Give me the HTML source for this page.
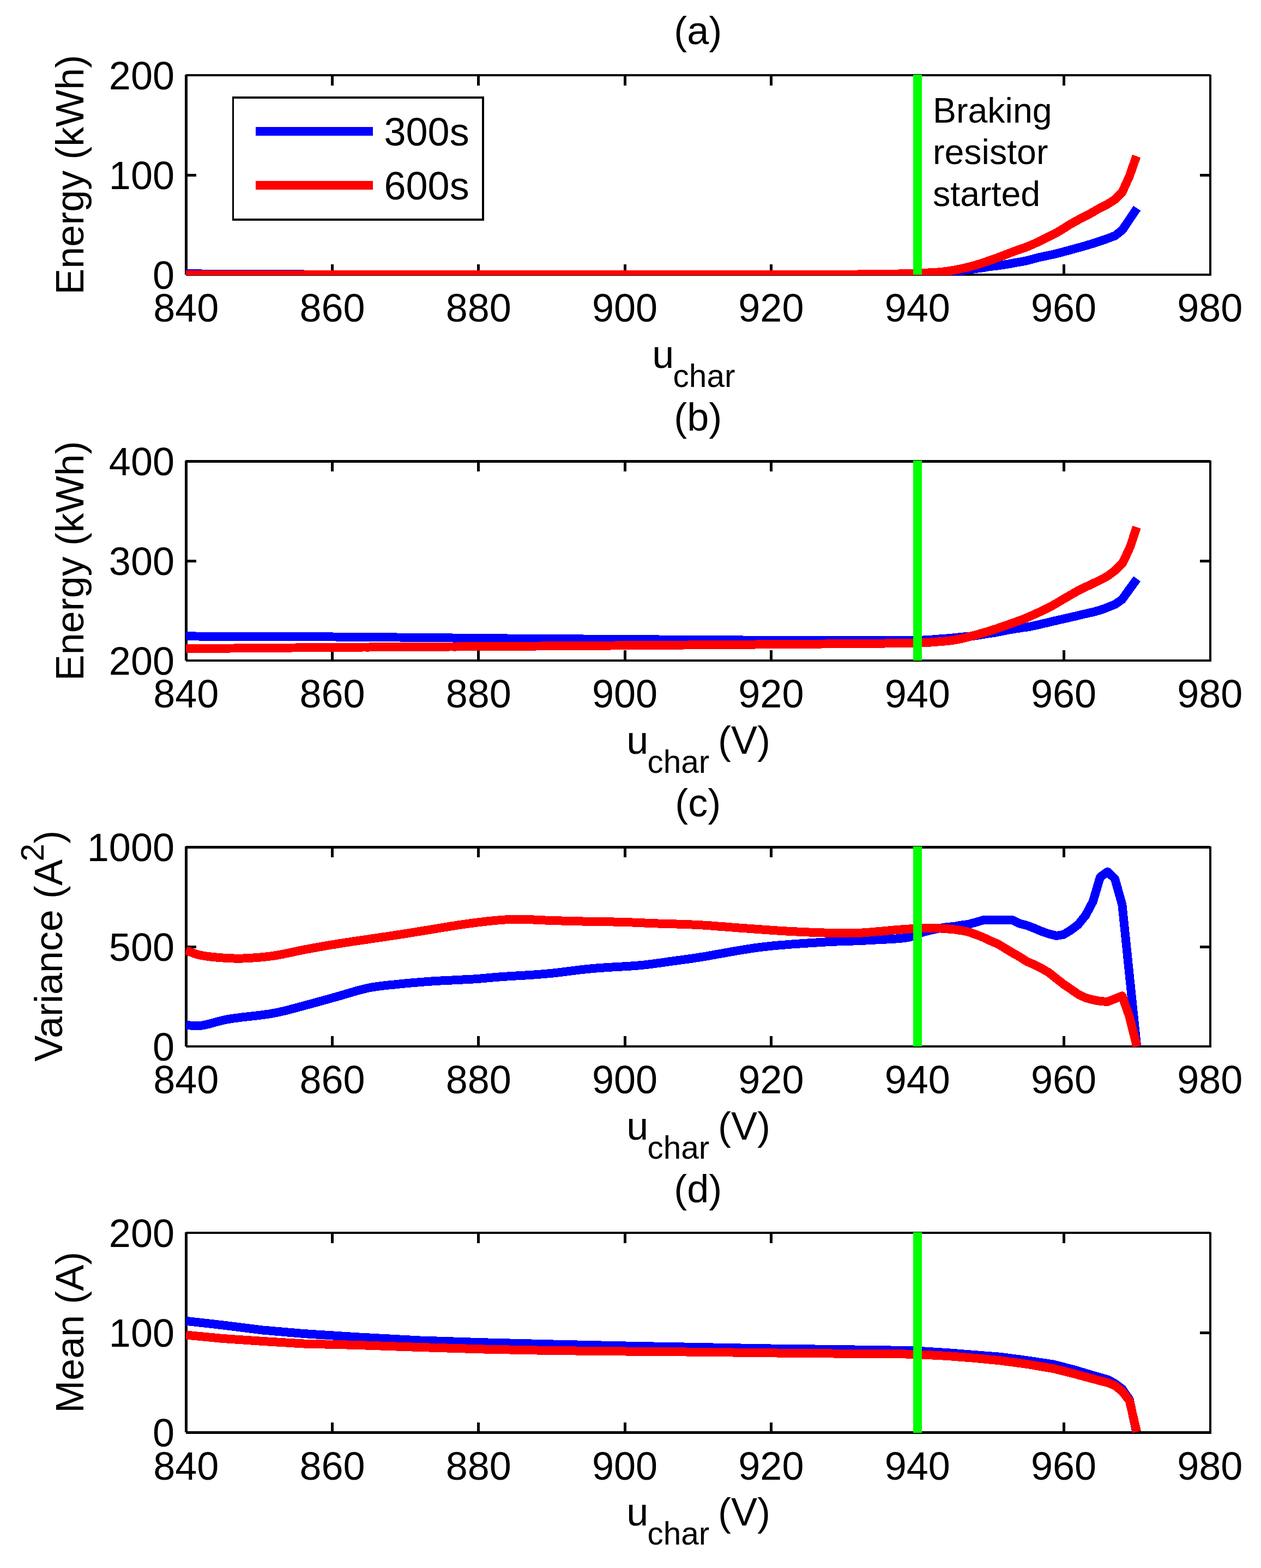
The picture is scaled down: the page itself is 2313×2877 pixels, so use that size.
<!DOCTYPE html><html><head><meta charset="utf-8"><title>figure</title><style>html,body{margin:0;padding:0;background:#fff;}svg{display:block;} .ce{shape-rendering:crispEdges;}text{font-family:"Liberation Sans", Arial, Helvetica, sans-serif;fill:#000;}</style></head><body>
<svg width="2313" height="2877" viewBox="0 0 2313 2877">
<rect width="2313" height="2877" fill="#fff"/>
<clipPath id="c0"><rect x="340" y="137" width="1881" height="368"/></clipPath>
<path class="ce" fill="#000" d="M341.0,136.0h1879.0v4.0h-1879.0zM341.0,502.0h1881.0v4.0h-1881.0zM339.0,137.0h5.0v367.0h-5.0zM2218.0,137.0h4.0v369.0h-4.0zM607.0,136.0h5.0v21.0h-5.0zM607.0,485.0h5.0v21.0h-5.0zM875.3,136.0h5.0v21.0h-5.0zM875.3,485.0h5.0v21.0h-5.0zM1143.6,136.0h5.0v21.0h-5.0zM1143.6,485.0h5.0v21.0h-5.0zM1411.9,136.0h5.0v21.0h-5.0zM1411.9,485.0h5.0v21.0h-5.0zM1680.2,136.0h5.0v21.0h-5.0zM1680.2,485.0h5.0v21.0h-5.0zM1948.5,136.0h5.0v21.0h-5.0zM1948.5,485.0h5.0v21.0h-5.0zM339.0,318.5h21.0v5.0h-21.0zM2201.0,318.5h21.0v5.0h-21.0z"/>
<g clip-path="url(#c0)" class="ce" fill="none" stroke-width="16" stroke-linejoin="round" stroke-linecap="butt">
<polyline points="341.2,501.9 366.5,501.9 367.0,502.9 552.0,502.9 560.0,503.8 1736.0,503.8 1765.0,496.5 1769.5,495.7 1774.0,494.9 1778.0,494.4 1782.0,494.0 1786.0,493.5 1790.0,493.0 1793.9,492.5 1798.0,492.0 1804.8,490.9 1812.3,489.6 1818.3,488.8 1824.5,488.1 1830.8,487.3 1837.0,486.4 1843.1,485.5 1849.3,484.5 1855.6,483.4 1861.8,482.2 1867.7,481.1 1873.7,480.1 1880.0,478.9 1886.2,477.4 1893.2,475.6 1900.5,473.7 1907.7,471.9 1914.6,470.4 1921.6,468.9 1928.5,467.5 1935.4,465.9 1942.2,464.2 1949.0,462.4 1955.9,460.6 1963.1,458.6 1969.0,457.0 1975.1,455.3 1981.4,453.6 1987.7,451.8 1994.0,450.0 2000.0,448.2 2006.7,446.1 2013.4,443.9 2019.9,441.7 2026.1,439.6 2031.5,437.7 2038.9,434.9 2045.6,432.3 2059.1,421.5 2085.5,382.1" stroke="#0000ff"/>
<polyline points="341.2,503.7 1560.0,503.6 1566.3,503.5 1572.5,503.5 1578.8,503.4 1585.0,503.3 1591.3,503.2 1597.5,503.2 1603.8,503.1 1610.0,503.0 1616.3,502.9 1622.8,502.8 1629.3,502.8 1635.7,502.7 1642.1,502.6 1648.3,502.5 1654.3,502.3 1660.0,502.2 1666.7,502.0 1672.9,501.8 1678.9,501.5 1684.8,501.3 1691.0,501.0 1697.8,500.7 1704.9,500.4 1712.0,500.0 1718.8,499.6 1725.0,499.1 1732.2,498.3 1738.9,497.4 1745.0,496.5 1751.8,495.3 1758.0,494.0 1763.2,493.0 1768.0,492.0 1772.1,491.0 1776.0,490.0 1780.0,489.0 1784.0,488.0 1787.6,487.0 1791.0,486.0 1794.0,485.1 1797.0,484.2 1800.2,483.1 1803.5,482.0 1807.6,480.6 1812.3,479.0 1818.0,477.0 1824.4,474.8 1830.8,472.5 1837.0,470.1 1843.1,467.7 1849.3,465.3 1855.6,462.9 1861.8,460.6 1867.7,458.5 1873.8,456.5 1880.0,454.3 1886.6,451.7 1893.7,448.7 1900.8,445.5 1907.7,442.2 1914.6,438.9 1921.5,435.4 1928.5,431.9 1935.4,428.3 1942.3,424.5 1947.5,421.4 1952.7,418.1 1957.9,414.8 1963.1,411.6 1970.1,407.6 1977.1,403.7 1983.9,400.1 1989.5,397.2 1994.9,394.5 2000.0,391.8 2006.2,388.2 2012.6,384.5 2018.7,381.3 2025.3,377.9 2031.5,374.6 2038.5,370.3 2045.2,366.0 2058.6,352.2 2071.7,323.3 2084.6,286.5" stroke="#ff0000"/>
<line x1="1682.7" y1="137" x2="1682.7" y2="504.0" stroke="#00ff00"/>
</g>
<text x="341.2" y="590.0" font-size="72" text-anchor="middle">840</text>
<text x="609.5" y="590.0" font-size="72" text-anchor="middle">860</text>
<text x="877.8" y="590.0" font-size="72" text-anchor="middle">880</text>
<text x="1146.1" y="590.0" font-size="72" text-anchor="middle">900</text>
<text x="1414.4" y="590.0" font-size="72" text-anchor="middle">920</text>
<text x="1682.7" y="590.0" font-size="72" text-anchor="middle">940</text>
<text x="1951.0" y="590.0" font-size="72" text-anchor="middle">960</text>
<text x="2219.3" y="590.0" font-size="72" text-anchor="middle">980</text>
<text x="320" y="529.5" font-size="72" text-anchor="end">0</text>
<text x="320" y="346.7" font-size="72" text-anchor="end">100</text>
<text x="320" y="163.9" font-size="72" text-anchor="end">200</text>
<text x="1280.2" y="81.0" font-size="72" text-anchor="middle">(a)</text>
<text x="1196.2" y="674.5" font-size="72">u</text><text x="1234.6" y="709.5" font-size="58.5">char</text>
<text transform="translate(152.7,320.8) rotate(-90)" font-size="72" text-anchor="middle">Energy (kWh)</text>
<clipPath id="c1"><rect x="340" y="845" width="1881" height="368"/></clipPath>
<path class="ce" fill="#000" d="M341.0,844.0h1879.0v5.0h-1879.0zM341.0,1210.0h1881.0v4.0h-1881.0zM339.0,845.0h5.0v367.0h-5.0zM2218.0,845.0h4.0v369.0h-4.0zM607.0,844.0h5.0v21.0h-5.0zM607.0,1193.0h5.0v21.0h-5.0zM875.3,844.0h5.0v21.0h-5.0zM875.3,1193.0h5.0v21.0h-5.0zM1143.6,844.0h5.0v21.0h-5.0zM1143.6,1193.0h5.0v21.0h-5.0zM1411.9,844.0h5.0v21.0h-5.0zM1411.9,1193.0h5.0v21.0h-5.0zM1680.2,844.0h5.0v21.0h-5.0zM1680.2,1193.0h5.0v21.0h-5.0zM1948.5,844.0h5.0v21.0h-5.0zM1948.5,1193.0h5.0v21.0h-5.0zM339.0,1026.8h21.0v5.0h-21.0zM2201.0,1026.8h21.0v5.0h-21.0z"/>
<g clip-path="url(#c1)" class="ce" fill="none" stroke-width="16" stroke-linejoin="round" stroke-linecap="butt">
<polyline points="341.2,1167.4 347.2,1167.4 353.2,1167.4 359.1,1167.5 365.0,1167.5 370.9,1167.5 376.8,1167.5 382.6,1167.5 388.4,1167.6 394.2,1167.6 400.0,1167.6 405.8,1167.6 411.6,1167.6 417.4,1167.6 423.1,1167.7 428.9,1167.7 434.7,1167.7 440.4,1167.7 446.2,1167.7 452.0,1167.7 457.8,1167.8 463.6,1167.8 469.4,1167.8 475.3,1167.8 481.1,1167.8 487.0,1167.9 493.0,1167.9 498.9,1167.9 504.9,1167.9 510.9,1167.9 517.0,1168.0 523.0,1168.0 529.2,1168.0 535.3,1168.1 541.6,1168.1 547.8,1168.1 554.1,1168.1 560.5,1168.2 566.9,1168.2 573.4,1168.2 580.0,1168.3 586.6,1168.3 593.3,1168.4 600.0,1168.4 605.3,1168.4 610.6,1168.5 616.0,1168.5 621.4,1168.5 626.8,1168.6 632.2,1168.6 637.6,1168.7 643.1,1168.7 648.6,1168.8 654.1,1168.8 659.7,1168.8 665.2,1168.9 670.8,1168.9 676.5,1169.0 682.1,1169.0 687.7,1169.1 693.4,1169.2 699.1,1169.2 704.9,1169.3 710.6,1169.3 716.4,1169.4 722.2,1169.4 728.0,1169.5 733.8,1169.5 739.7,1169.6 745.6,1169.7 751.5,1169.7 757.4,1169.8 763.3,1169.8 769.3,1169.9 775.3,1170.0 781.3,1170.0 787.3,1170.1 793.3,1170.1 799.4,1170.2 805.5,1170.3 811.6,1170.3 817.7,1170.4 823.9,1170.4 830.0,1170.5 836.2,1170.6 842.4,1170.6 848.6,1170.7 854.9,1170.7 861.1,1170.8 867.4,1170.9 873.7,1170.9 880.0,1171.0 886.4,1171.1 892.7,1171.1 899.1,1171.2 905.5,1171.2 911.9,1171.3 918.3,1171.3 924.7,1171.4 931.2,1171.5 937.7,1171.5 944.2,1171.6 950.7,1171.6 957.2,1171.7 963.7,1171.7 970.3,1171.8 976.8,1171.8 983.4,1171.9 990.0,1171.9 996.7,1172.0 1003.3,1172.0 1010.0,1172.1 1016.6,1172.1 1023.3,1172.2 1030.0,1172.2 1035.4,1172.2 1040.9,1172.3 1046.5,1172.3 1052.2,1172.3 1058.0,1172.4 1063.8,1172.4 1069.8,1172.5 1075.8,1172.5 1081.9,1172.5 1088.0,1172.6 1094.3,1172.6 1100.6,1172.7 1107.0,1172.7 1113.4,1172.8 1119.9,1172.8 1126.5,1172.9 1133.1,1172.9 1139.8,1173.0 1146.5,1173.0 1153.3,1173.0 1160.1,1173.1 1167.0,1173.1 1174.0,1173.2 1180.9,1173.2 1187.9,1173.3 1195.0,1173.3 1202.1,1173.4 1209.2,1173.5 1216.3,1173.5 1223.5,1173.6 1230.7,1173.6 1238.0,1173.7 1245.2,1173.7 1252.5,1173.8 1259.8,1173.8 1267.1,1173.9 1274.4,1173.9 1281.7,1174.0 1289.1,1174.0 1296.4,1174.1 1303.8,1174.1 1311.1,1174.2 1318.5,1174.2 1325.8,1174.3 1333.2,1174.3 1340.5,1174.4 1347.8,1174.4 1355.2,1174.4 1362.5,1174.5 1369.8,1174.5 1377.0,1174.6 1384.3,1174.6 1391.5,1174.7 1398.7,1174.7 1405.9,1174.7 1413.0,1174.8 1420.1,1174.8 1427.2,1174.9 1434.2,1174.9 1441.2,1174.9 1448.2,1175.0 1455.1,1175.0 1462.0,1175.0 1468.8,1175.1 1475.5,1175.1 1482.3,1175.1 1488.9,1175.2 1495.5,1175.2 1502.1,1175.2 1508.6,1175.2 1515.0,1175.3 1521.3,1175.3 1527.6,1175.3 1533.8,1175.3 1540.0,1175.3 1546.0,1175.3 1552.0,1175.4 1557.9,1175.4 1563.7,1175.4 1569.5,1175.4 1575.1,1175.4 1580.7,1175.4 1586.2,1175.4 1591.6,1175.4 1596.8,1175.4 1602.0,1175.4 1607.1,1175.4 1612.1,1175.4 1617.0,1175.4 1621.8,1175.4 1626.4,1175.3 1631.0,1175.3 1635.4,1175.3 1639.7,1175.3 1643.9,1175.3 1648.0,1175.2 1652.0,1175.2 1655.8,1175.2 1659.5,1175.1 1663.1,1175.1 1666.5,1175.1 1669.8,1175.0 1673.0,1175.0 1676.0,1174.9 1678.9,1174.9 1681.7,1174.8 1684.3,1174.8 1686.7,1174.7 1689.0,1174.7 1691.2,1174.6 1701.1,1174.2 1708.0,1173.7 1713.8,1173.2 1720.0,1172.7 1726.8,1172.2 1733.5,1171.7 1740.1,1171.2 1746.5,1170.6 1753.6,1169.9 1760.5,1169.2 1767.3,1168.5 1774.3,1167.9 1781.3,1167.3 1788.1,1166.5 1796.7,1165.1 1805.4,1163.6 1812.9,1162.5 1820.7,1161.4 1828.5,1160.1 1836.2,1158.6 1843.9,1157.0 1851.6,1155.5 1859.5,1154.2 1867.3,1152.9 1874.7,1151.8 1882.1,1150.8 1890.0,1149.5 1895.6,1148.3 1902.0,1146.9 1908.9,1145.3 1916.1,1143.6 1923.5,1141.8 1930.8,1140.1 1936.9,1138.7 1943.3,1137.2 1949.8,1135.8 1956.3,1134.3 1962.9,1132.8 1969.3,1131.3 1975.6,1129.8 1981.6,1128.4 1988.3,1126.8 1995.0,1125.3 2001.4,1123.8 2007.7,1122.3 2013.8,1120.6 2019.6,1118.9 2026.5,1116.5 2032.9,1113.9 2039.2,1111.3 2045.6,1108.7 2058.0,1100.1 2085.6,1062.0" stroke="#0000ff"/>
<polyline points="341.2,1190.3 347.2,1190.2 353.2,1190.2 359.1,1190.1 365.0,1190.1 370.9,1190.0 376.8,1190.0 382.6,1189.9 388.4,1189.9 394.2,1189.8 400.0,1189.8 405.8,1189.7 411.6,1189.7 417.4,1189.6 423.1,1189.5 428.9,1189.5 434.7,1189.4 440.4,1189.4 446.2,1189.3 452.0,1189.3 457.8,1189.2 463.6,1189.2 469.4,1189.1 475.3,1189.1 481.1,1189.0 487.0,1189.0 493.0,1188.9 498.9,1188.8 504.9,1188.8 510.9,1188.7 516.9,1188.7 523.0,1188.6 529.2,1188.6 535.3,1188.5 541.6,1188.5 547.8,1188.4 554.1,1188.4 560.5,1188.3 566.9,1188.3 573.4,1188.2 580.0,1188.2 586.6,1188.1 593.3,1188.1 600.0,1188.0 605.3,1188.0 610.6,1187.9 616.0,1187.9 621.4,1187.8 626.8,1187.8 632.2,1187.8 637.7,1187.7 643.2,1187.7 648.7,1187.6 654.2,1187.6 659.8,1187.6 665.3,1187.5 671.0,1187.5 676.6,1187.5 682.2,1187.4 687.9,1187.4 693.6,1187.3 699.3,1187.3 705.1,1187.3 710.8,1187.2 716.6,1187.2 722.4,1187.2 728.3,1187.1 734.1,1187.1 740.0,1187.1 745.9,1187.0 751.8,1187.0 757.8,1186.9 763.7,1186.9 769.7,1186.9 775.7,1186.8 781.7,1186.8 787.8,1186.8 793.8,1186.7 799.9,1186.7 806.0,1186.7 812.1,1186.6 818.3,1186.6 824.4,1186.5 830.6,1186.5 836.8,1186.5 843.0,1186.4 849.2,1186.4 855.5,1186.4 861.8,1186.3 868.0,1186.3 874.3,1186.2 880.6,1186.2 887.0,1186.2 893.3,1186.1 899.7,1186.1 906.1,1186.0 912.5,1186.0 918.9,1186.0 925.3,1185.9 931.7,1185.9 938.2,1185.8 944.7,1185.8 951.1,1185.7 957.6,1185.7 964.2,1185.7 970.7,1185.6 977.2,1185.6 983.8,1185.5 990.3,1185.5 996.9,1185.4 1003.5,1185.4 1010.1,1185.3 1016.7,1185.3 1023.4,1185.2 1030.0,1185.2 1035.5,1185.2 1041.0,1185.1 1046.7,1185.1 1052.4,1185.0 1058.2,1185.0 1064.2,1184.9 1070.2,1184.9 1076.2,1184.9 1082.4,1184.8 1088.6,1184.8 1094.9,1184.7 1101.3,1184.7 1107.7,1184.6 1114.3,1184.6 1120.8,1184.5 1127.5,1184.5 1134.2,1184.4 1140.9,1184.4 1147.7,1184.3 1154.6,1184.3 1161.5,1184.2 1168.4,1184.2 1175.4,1184.1 1182.4,1184.1 1189.5,1184.0 1196.6,1184.0 1203.8,1183.9 1210.9,1183.9 1218.1,1183.8 1225.4,1183.7 1232.6,1183.7 1239.9,1183.6 1247.2,1183.6 1254.5,1183.5 1261.8,1183.5 1269.2,1183.4 1276.5,1183.4 1283.9,1183.3 1291.2,1183.2 1298.6,1183.2 1306.0,1183.1 1313.3,1183.1 1320.7,1183.0 1328.0,1183.0 1335.3,1182.9 1342.7,1182.8 1350.0,1182.8 1357.3,1182.7 1364.5,1182.7 1371.8,1182.6 1379.0,1182.6 1386.2,1182.5 1393.4,1182.4 1400.5,1182.4 1407.6,1182.3 1414.6,1182.3 1421.7,1182.2 1428.6,1182.2 1435.6,1182.1 1442.5,1182.0 1449.3,1182.0 1456.1,1181.9 1462.8,1181.9 1469.5,1181.8 1476.1,1181.8 1482.7,1181.7 1489.1,1181.7 1495.6,1181.6 1501.9,1181.6 1508.2,1181.5 1514.4,1181.5 1520.5,1181.4 1526.6,1181.4 1532.6,1181.3 1538.4,1181.3 1544.2,1181.2 1550.0,1181.2 1555.6,1181.1 1561.1,1181.1 1566.5,1181.0 1571.9,1181.0 1577.1,1180.9 1582.2,1180.9 1587.3,1180.8 1592.2,1180.8 1597.0,1180.7 1601.7,1180.7 1606.2,1180.6 1610.7,1180.6 1615.0,1180.6 1619.2,1180.5 1623.3,1180.5 1627.3,1180.4 1631.1,1180.4 1634.8,1180.4 1638.4,1180.3 1641.8,1180.3 1645.1,1180.3 1648.2,1180.2 1651.2,1180.2 1654.1,1180.2 1656.8,1180.1 1659.3,1180.1 1661.7,1180.1 1663.9,1180.0 1666.0,1180.0 1674.8,1179.9 1681.2,1179.8 1686.2,1179.7 1691.2,1179.5 1698.3,1179.1 1705.0,1178.7 1712.3,1178.1 1720.0,1177.5 1726.5,1177.0 1733.3,1176.5 1740.0,1175.8 1746.0,1175.0 1751.9,1174.1 1758.0,1172.9 1763.8,1171.7 1770.0,1170.2 1776.2,1168.7 1782.3,1167.1 1788.1,1165.5 1793.9,1163.9 1799.6,1162.2 1805.4,1160.5 1811.2,1158.8 1817.0,1157.0 1822.7,1155.2 1828.5,1153.3 1834.3,1151.3 1840.1,1149.3 1845.8,1147.3 1851.6,1145.2 1857.5,1143.1 1863.5,1141.0 1869.3,1138.9 1874.7,1136.9 1882.6,1133.7 1890.0,1130.5 1897.5,1127.2 1905.4,1123.6 1911.3,1120.8 1917.7,1117.6 1924.3,1114.3 1930.8,1110.9 1937.2,1107.3 1943.5,1103.5 1949.9,1099.7 1956.2,1096.0 1962.5,1092.3 1968.9,1088.7 1975.2,1085.1 1981.6,1081.7 1987.9,1078.6 1994.3,1075.6 2000.7,1072.7 2007.0,1069.7 2013.4,1066.6 2019.8,1063.4 2026.0,1060.2 2031.5,1057.0 2038.4,1052.1 2044.7,1047.2 2059.7,1032.2 2073.3,1002.7 2085.0,967.1" stroke="#ff0000"/>
<line x1="1682.7" y1="845" x2="1682.7" y2="1212.0" stroke="#00ff00"/>
</g>
<text x="341.2" y="1298.2" font-size="72" text-anchor="middle">840</text>
<text x="609.5" y="1298.2" font-size="72" text-anchor="middle">860</text>
<text x="877.8" y="1298.2" font-size="72" text-anchor="middle">880</text>
<text x="1146.1" y="1298.2" font-size="72" text-anchor="middle">900</text>
<text x="1414.4" y="1298.2" font-size="72" text-anchor="middle">920</text>
<text x="1682.7" y="1298.2" font-size="72" text-anchor="middle">940</text>
<text x="1951.0" y="1298.2" font-size="72" text-anchor="middle">960</text>
<text x="2219.3" y="1298.2" font-size="72" text-anchor="middle">980</text>
<text x="320" y="1237.5" font-size="72" text-anchor="end">200</text>
<text x="320" y="1054.7" font-size="72" text-anchor="end">300</text>
<text x="320" y="871.9" font-size="72" text-anchor="end">400</text>
<text x="1280.2" y="790.0" font-size="72" text-anchor="middle">(b)</text>
<text x="1149.3" y="1383.0" font-size="72">u</text><text x="1187.5" y="1417.5" font-size="58.5">char</text><text x="1317" y="1383.0" font-size="72">(V)</text>
<text transform="translate(152.7,1029.3) rotate(-90)" font-size="72" text-anchor="middle">Energy (kWh)</text>
<clipPath id="c2"><rect x="340" y="1553" width="1881" height="368"/></clipPath>
<path class="ce" fill="#000" d="M341.0,1552.0h1879.0v5.0h-1879.0zM341.0,1918.0h1881.0v4.0h-1881.0zM339.0,1553.0h5.0v367.0h-5.0zM2218.0,1553.0h4.0v369.0h-4.0zM607.0,1552.0h5.0v21.0h-5.0zM607.0,1901.0h5.0v21.0h-5.0zM875.3,1552.0h5.0v21.0h-5.0zM875.3,1901.0h5.0v21.0h-5.0zM1143.6,1552.0h5.0v21.0h-5.0zM1143.6,1901.0h5.0v21.0h-5.0zM1411.9,1552.0h5.0v21.0h-5.0zM1411.9,1901.0h5.0v21.0h-5.0zM1680.2,1552.0h5.0v21.0h-5.0zM1680.2,1901.0h5.0v21.0h-5.0zM1948.5,1552.0h5.0v21.0h-5.0zM1948.5,1901.0h5.0v21.0h-5.0zM339.0,1734.8h21.0v5.0h-21.0zM2201.0,1734.8h21.0v5.0h-21.0z"/>
<g clip-path="url(#c2)" class="ce" fill="none" stroke-width="16" stroke-linejoin="round" stroke-linecap="butt">
<polyline points="341.2,1881.0 347.6,1881.4 353.9,1881.9 360.4,1882.2 367.5,1881.9 372.8,1881.2 378.4,1880.0 384.2,1878.6 390.2,1876.9 396.5,1875.2 403.0,1873.5 409.7,1871.8 416.6,1870.4 422.1,1869.5 427.8,1868.6 433.8,1867.8 440.0,1867.0 446.4,1866.2 452.9,1865.5 459.4,1864.7 466.0,1864.0 472.5,1863.3 479.0,1862.5 485.3,1861.6 491.5,1860.8 497.4,1859.8 503.1,1858.8 510.1,1857.4 516.8,1855.9 523.3,1854.4 529.6,1852.8 535.8,1851.1 542.0,1849.5 548.2,1847.8 554.5,1846.1 560.8,1844.4 567.2,1842.7 573.6,1841.0 580.0,1839.2 586.5,1837.4 592.9,1835.6 599.3,1833.9 605.7,1832.1 612.1,1830.3 618.5,1828.5 624.9,1826.7 631.3,1824.8 637.7,1822.9 644.1,1821.0 650.5,1819.1 656.9,1817.3 663.3,1815.6 669.8,1814.0 676.2,1812.6 682.6,1811.4 689.0,1810.4 695.4,1809.5 701.8,1808.7 708.2,1808.0 714.6,1807.3 721.1,1806.7 727.5,1806.1 733.9,1805.4 740.3,1804.7 746.5,1804.1 752.8,1803.6 759.0,1803.0 765.3,1802.5 771.6,1802.0 778.1,1801.5 784.8,1801.0 791.6,1800.5 797.4,1800.1 803.5,1799.8 809.8,1799.4 816.2,1799.1 822.7,1798.8 829.3,1798.5 835.8,1798.1 842.3,1797.8 848.7,1797.5 854.9,1797.2 860.9,1796.9 866.7,1796.6 872.1,1796.2 878.9,1795.7 885.0,1795.2 890.8,1794.7 896.5,1794.1 902.3,1793.6 908.5,1793.1 915.4,1792.5 920.7,1792.1 926.2,1791.7 932.0,1791.4 938.0,1791.0 944.1,1790.6 950.4,1790.3 956.9,1789.9 963.3,1789.5 969.9,1789.1 976.4,1788.7 982.9,1788.2 989.4,1787.7 995.8,1787.2 1002.0,1786.7 1008.2,1786.1 1014.4,1785.5 1020.5,1784.8 1026.7,1784.1 1032.9,1783.3 1039.1,1782.6 1045.2,1781.8 1051.4,1781.0 1057.6,1780.3 1063.8,1779.5 1070.0,1778.8 1076.1,1778.1 1082.3,1777.5 1088.5,1776.9 1094.7,1776.4 1101.0,1775.9 1107.4,1775.5 1113.7,1775.1 1120.1,1774.7 1126.5,1774.3 1132.9,1774.0 1139.2,1773.6 1145.5,1773.3 1151.6,1772.9 1157.7,1772.5 1163.7,1772.1 1169.5,1771.6 1175.1,1771.1 1182.1,1770.4 1188.8,1769.6 1195.4,1768.8 1201.9,1767.9 1208.2,1767.1 1214.4,1766.2 1220.6,1765.3 1226.7,1764.4 1232.8,1763.6 1239.6,1762.7 1246.0,1761.8 1252.3,1761.0 1258.6,1760.1 1265.2,1759.2 1272.2,1758.2 1280.0,1757.0 1284.9,1756.2 1290.0,1755.4 1295.4,1754.5 1301.0,1753.5 1306.7,1752.5 1312.7,1751.4 1318.8,1750.3 1325.0,1749.2 1331.3,1748.1 1337.7,1746.9 1344.2,1745.8 1350.7,1744.7 1357.2,1743.6 1363.7,1742.5 1370.2,1741.5 1376.6,1740.5 1383.0,1739.5 1389.2,1738.7 1395.4,1737.9 1401.5,1737.2 1407.6,1736.5 1413.8,1735.8 1419.9,1735.2 1426.1,1734.6 1432.4,1734.1 1438.6,1733.6 1444.8,1733.1 1451.0,1732.6 1457.2,1732.1 1463.3,1731.7 1469.5,1731.3 1475.6,1730.9 1481.6,1730.5 1487.6,1730.1 1493.5,1729.8 1499.3,1729.4 1505.1,1729.0 1510.8,1728.7 1517.4,1728.3 1523.9,1728.0 1530.3,1727.7 1536.7,1727.4 1543.0,1727.2 1549.2,1727.0 1555.4,1726.8 1561.5,1726.6 1567.6,1726.4 1573.6,1726.1 1579.6,1725.9 1585.6,1725.6 1591.5,1725.3 1597.4,1725.0 1603.8,1724.6 1610.3,1724.3 1617.0,1724.0 1623.6,1723.6 1630.2,1723.3 1636.7,1722.9 1643.0,1722.5 1649.1,1722.0 1654.8,1721.5 1660.2,1720.8 1665.1,1720.1 1669.5,1719.2 1677.1,1716.8 1683.1,1714.0 1689.7,1711.4 1695.7,1709.6 1702.4,1707.9 1709.2,1706.3 1715.7,1704.8 1721.4,1703.6 1729.2,1702.2 1736.4,1701.1 1749.8,1700.0 1763.2,1697.6 1776.6,1695.8 1790.0,1692.3 1803.4,1688.2 1816.9,1688.2 1830.3,1688.2 1843.7,1688.2 1857.1,1688.2 1870.5,1694.6 1883.9,1698.1 1897.3,1703.2 1910.8,1709.0 1924.2,1713.6 1937.6,1717.0 1951.0,1714.7 1964.4,1706.6 1977.8,1696.3 1991.2,1679.6 2004.7,1654.3 2018.1,1609.2 2031.5,1599.5 2044.9,1612.4 2058.3,1659.5 2071.7,1789.3 2085.2,1920.0" stroke="#0000ff"/>
<polyline points="341.2,1744.0 347.5,1746.2 353.7,1748.5 360.1,1750.7 367.5,1752.6 373.0,1753.6 379.0,1754.6 385.6,1755.4 392.4,1756.1 399.3,1756.8 406.2,1757.3 412.9,1757.8 419.3,1758.1 425.2,1758.4 432.6,1758.6 439.5,1758.6 446.1,1758.5 452.8,1758.2 459.8,1757.8 465.7,1757.4 471.7,1757.0 477.7,1756.5 483.9,1755.9 490.2,1755.2 496.6,1754.4 503.1,1753.5 509.2,1752.5 515.4,1751.4 521.7,1750.1 528.2,1748.8 534.7,1747.4 541.3,1746.0 547.8,1744.6 554.3,1743.3 560.8,1742.0 567.2,1740.8 573.6,1739.6 580.0,1738.5 586.4,1737.3 592.8,1736.2 599.3,1735.1 605.7,1734.0 612.1,1733.0 618.5,1731.9 624.9,1730.9 631.3,1729.9 637.7,1728.9 644.1,1727.9 650.5,1727.0 657.0,1726.0 663.4,1725.1 669.8,1724.2 676.2,1723.2 682.6,1722.2 689.0,1721.3 695.4,1720.4 701.8,1719.4 708.3,1718.5 714.7,1717.5 721.1,1716.6 727.5,1715.6 733.9,1714.6 740.3,1713.6 746.7,1712.6 753.0,1711.6 759.3,1710.5 765.7,1709.5 772.1,1708.5 778.5,1707.4 785.0,1706.4 791.6,1705.3 797.5,1704.4 803.4,1703.4 809.4,1702.4 815.5,1701.4 821.6,1700.4 827.7,1699.4 833.8,1698.4 839.9,1697.5 845.9,1696.6 851.8,1695.7 857.7,1694.9 864.4,1694.0 871.1,1693.1 877.7,1692.3 884.4,1691.5 891.0,1690.7 897.4,1690.0 903.6,1689.4 909.6,1688.8 915.4,1688.3 922.8,1687.7 929.5,1687.3 936.1,1686.9 942.8,1686.7 950.0,1686.6 956.0,1686.6 962.2,1686.8 968.6,1687.0 975.2,1687.3 981.8,1687.7 988.6,1688.0 995.3,1688.3 1002.0,1688.6 1008.2,1688.8 1014.4,1689.0 1020.6,1689.2 1026.8,1689.4 1033.1,1689.6 1039.5,1689.8 1046.0,1689.9 1052.8,1690.1 1059.7,1690.3 1065.4,1690.4 1071.3,1690.6 1077.4,1690.7 1083.7,1690.8 1090.0,1690.9 1096.5,1691.0 1103.0,1691.1 1109.4,1691.2 1115.9,1691.3 1122.3,1691.4 1128.5,1691.6 1134.6,1691.7 1140.5,1691.8 1146.2,1692.0 1153.1,1692.2 1159.7,1692.5 1166.0,1692.7 1172.2,1693.0 1178.3,1693.3 1184.5,1693.6 1190.8,1693.9 1197.2,1694.1 1203.9,1694.4 1209.9,1694.6 1215.9,1694.8 1222.1,1695.0 1228.3,1695.2 1234.6,1695.3 1241.0,1695.5 1247.4,1695.7 1253.9,1695.9 1260.4,1696.1 1266.9,1696.4 1273.5,1696.7 1280.0,1697.0 1286.0,1697.3 1292.1,1697.7 1298.2,1698.1 1304.3,1698.5 1310.5,1699.0 1316.7,1699.5 1323.0,1700.0 1329.2,1700.4 1335.4,1700.9 1341.7,1701.4 1347.9,1701.9 1354.2,1702.4 1360.4,1702.9 1366.6,1703.3 1372.8,1703.7 1379.0,1704.2 1385.1,1704.6 1391.3,1705.1 1397.5,1705.5 1403.7,1706.0 1409.8,1706.4 1416.0,1706.8 1422.2,1707.2 1428.4,1707.7 1434.6,1708.0 1440.7,1708.4 1446.9,1708.8 1453.1,1709.1 1459.4,1709.4 1465.9,1709.7 1472.5,1710.0 1479.2,1710.3 1485.9,1710.6 1492.6,1710.8 1499.3,1711.1 1505.8,1711.3 1512.2,1711.5 1518.3,1711.7 1524.2,1711.8 1529.8,1712.0 1534.9,1712.1 1539.7,1712.2 1547.9,1712.3 1554.7,1712.4 1561.3,1712.4 1568.5,1712.2 1574.2,1711.9 1580.2,1711.6 1586.4,1711.1 1592.8,1710.7 1599.2,1710.1 1605.5,1709.6 1611.8,1709.1 1617.9,1708.6 1624.0,1708.0 1630.0,1707.4 1636.1,1706.8 1642.3,1706.3 1648.6,1705.8 1655.1,1705.3 1661.3,1704.9 1667.8,1704.5 1674.7,1704.2 1681.6,1703.8 1688.4,1703.5 1695.1,1703.3 1701.5,1703.1 1707.5,1703.0 1712.8,1703.0 1721.7,1703.3 1729.4,1703.8 1736.4,1704.3 1743.3,1704.8 1749.8,1705.3 1763.2,1707.3 1776.6,1709.9 1790.0,1714.7 1803.4,1720.0 1816.9,1726.3 1830.3,1732.0 1843.7,1740.1 1857.1,1748.2 1870.5,1755.8 1883.9,1764.4 1897.3,1770.1 1910.8,1777.0 1924.2,1784.7 1937.6,1795.5 1951.0,1805.9 1964.4,1815.1 1977.8,1824.4 1991.2,1830.8 2004.7,1834.5 2018.1,1837.0 2031.5,1838.0 2044.9,1832.7 2058.3,1827.4 2071.7,1865.5 2085.2,1920.0" stroke="#ff0000"/>
<line x1="1682.7" y1="1553" x2="1682.7" y2="1920.0" stroke="#00ff00"/>
</g>
<text x="341.2" y="2006.3" font-size="72" text-anchor="middle">840</text>
<text x="609.5" y="2006.3" font-size="72" text-anchor="middle">860</text>
<text x="877.8" y="2006.3" font-size="72" text-anchor="middle">880</text>
<text x="1146.1" y="2006.3" font-size="72" text-anchor="middle">900</text>
<text x="1414.4" y="2006.3" font-size="72" text-anchor="middle">920</text>
<text x="1682.7" y="2006.3" font-size="72" text-anchor="middle">940</text>
<text x="1951.0" y="2006.3" font-size="72" text-anchor="middle">960</text>
<text x="2219.3" y="2006.3" font-size="72" text-anchor="middle">980</text>
<text x="320" y="1945.5" font-size="72" text-anchor="end">0</text>
<text x="320" y="1762.7" font-size="72" text-anchor="end">500</text>
<text x="320" y="1579.9" font-size="72" text-anchor="end">1000</text>
<text x="1280.2" y="1498.3" font-size="72" text-anchor="middle">(c)</text>
<text x="1149.3" y="2091.2" font-size="72">u</text><text x="1187.5" y="2125.7" font-size="58.5">char</text><text x="1317" y="2091.2" font-size="72">(V)</text>
<text transform="translate(114.1,1735.8) rotate(-90)" font-size="72" text-anchor="middle">Variance (A<tspan font-size="58.5" dx="-3.5" dy="-34">2</tspan><tspan dy="34">)</tspan></text>
<clipPath id="c3"><rect x="340" y="2261" width="1881" height="369"/></clipPath>
<path class="ce" fill="#000" d="M341.0,2260.0h1879.0v4.0h-1879.0zM341.0,2626.0h1881.0v5.0h-1881.0zM339.0,2261.0h5.0v367.0h-5.0zM2218.0,2261.0h4.0v370.0h-4.0zM607.0,2260.0h5.0v21.0h-5.0zM607.0,2610.0h5.0v21.0h-5.0zM875.3,2260.0h5.0v21.0h-5.0zM875.3,2610.0h5.0v21.0h-5.0zM1143.6,2260.0h5.0v21.0h-5.0zM1143.6,2610.0h5.0v21.0h-5.0zM1411.9,2260.0h5.0v21.0h-5.0zM1411.9,2610.0h5.0v21.0h-5.0zM1680.2,2260.0h5.0v21.0h-5.0zM1680.2,2610.0h5.0v21.0h-5.0zM1948.5,2260.0h5.0v21.0h-5.0zM1948.5,2610.0h5.0v21.0h-5.0zM339.0,2442.8h21.0v5.0h-21.0zM2201.0,2442.8h21.0v5.0h-21.0z"/>
<g clip-path="url(#c3)" class="ce" fill="none" stroke-width="16" stroke-linejoin="round" stroke-linecap="butt">
<polyline points="341.2,2423.8 408.9,2431.4 482.7,2440.6 556.6,2447.0 655.0,2453.3 770.0,2459.5 890.0,2463.4 1010.0,2466.4 1165.0,2469.9 1282.3,2472.0 1404.6,2474.4 1527.0,2475.9 1673.8,2478.1 1738.5,2482.2 1786.9,2486.0 1835.4,2489.8 1883.9,2496.2 1932.3,2503.5 1970.0,2513.3 2008.5,2524.8 2031.5,2531.3 2044.9,2538.3 2058.3,2548.5 2071.7,2568.0 2084.5,2627.5" stroke="#0000ff"/>
<polyline points="341.2,2449.5 408.9,2456.0 482.7,2461.0 556.6,2465.5 655.0,2468.0 770.0,2472.0 890.0,2475.6 1010.0,2478.0 1165.0,2479.7 1282.3,2480.7 1404.6,2482.3 1527.0,2483.5 1673.8,2484.6 1738.5,2488.0 1786.9,2491.8 1835.4,2496.5 1883.9,2502.9 1932.3,2511.2 1970.0,2520.5 2008.5,2531.0 2031.5,2536.8 2044.9,2542.2 2058.3,2552.7 2071.7,2570.0 2085.2,2627.5" stroke="#ff0000"/>
<line x1="1682.7" y1="2261" x2="1682.7" y2="2628.5" stroke="#00ff00"/>
</g>
<text x="341.2" y="2714.5" font-size="72" text-anchor="middle">840</text>
<text x="609.5" y="2714.5" font-size="72" text-anchor="middle">860</text>
<text x="877.8" y="2714.5" font-size="72" text-anchor="middle">880</text>
<text x="1146.1" y="2714.5" font-size="72" text-anchor="middle">900</text>
<text x="1414.4" y="2714.5" font-size="72" text-anchor="middle">920</text>
<text x="1682.7" y="2714.5" font-size="72" text-anchor="middle">940</text>
<text x="1951.0" y="2714.5" font-size="72" text-anchor="middle">960</text>
<text x="2219.3" y="2714.5" font-size="72" text-anchor="middle">980</text>
<text x="320" y="2654.0" font-size="72" text-anchor="end">0</text>
<text x="320" y="2471.2" font-size="72" text-anchor="end">100</text>
<text x="320" y="2288.4" font-size="72" text-anchor="end">200</text>
<text x="1280.2" y="2205.5" font-size="72" text-anchor="middle">(d)</text>
<text x="1149.3" y="2799.3" font-size="72">u</text><text x="1187.5" y="2833.8" font-size="58.5">char</text><text x="1317" y="2799.3" font-size="72">(V)</text>
<text transform="translate(153.1,2444.8) rotate(-90)" font-size="72" text-anchor="middle">Mean (A)</text>
<rect x="427.4" y="179" width="458.6" height="223.8" fill="#fff" stroke="#000" stroke-width="3.6" class="ce"/>
<line x1="468.8" y1="240.9" x2="683.7" y2="240.9" stroke="#0000ff" stroke-width="16" class="ce"/>
<line x1="468.8" y1="340.4" x2="683.7" y2="340.4" stroke="#ff0000" stroke-width="16" class="ce"/>
<text x="704.5" y="266.5" font-size="72">300s</text>
<text x="704.5" y="365.5" font-size="72">600s</text>
<text x="1711" y="224.8" font-size="64.5">Braking</text>
<text x="1711" y="301" font-size="64.5">resistor</text>
<text x="1711" y="377.9" font-size="64.5">started</text>
</svg></body></html>
